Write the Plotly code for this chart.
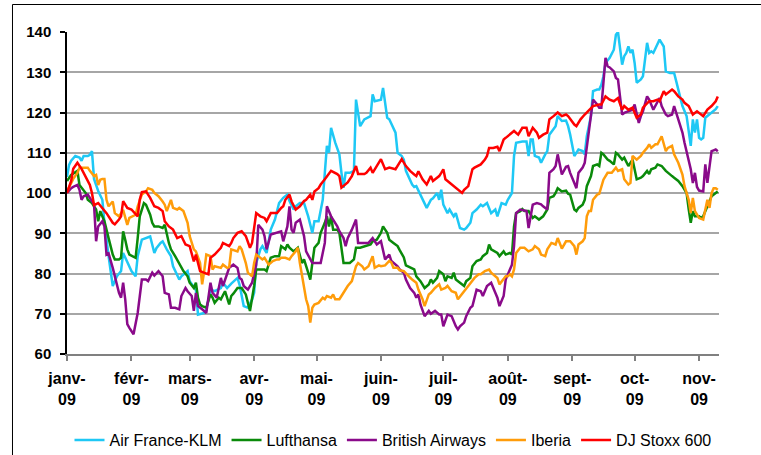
import pandas as pd
import plotly.graph_objects as go

# ---- data (day = days since 1 Jan 2009, value = index, base 100) ----
af_days = [0, 1, 2, 4, 6, 7, 8, 10, 11, 12, 13, 14, 15, 17, 18, 20, 22, 24, 26, 27, 29, 31, 33, 34, 36, 38, 40, 42, 43, 45, 46, 48, 50, 51, 54, 55, 58, 59, 62, 63, 66, 67, 69, 71, 74, 75, 77, 79, 82, 83, 85, 87, 89, 90, 91, 93, 94, 96, 97, 98, 100, 102, 104, 106, 107, 109, 110, 112, 114, 116, 118, 119, 121, 123, 124, 125, 126, 127, 129, 131, 132, 133, 134, 136, 138, 139, 141, 143, 146, 147, 148, 151, 152, 154, 155, 158, 159, 161, 162, 163, 166, 167, 168, 170, 171, 173, 175, 176, 178, 179, 180, 181, 183, 184, 186, 187, 189, 191, 192, 194, 195, 197, 199, 200, 202, 203, 204, 206, 207, 209, 211, 212, 214, 215, 216, 219, 221, 222, 223, 224, 225, 227, 228, 230, 231, 232, 234, 235, 236, 238, 240, 241, 242, 243, 244, 246, 248, 249, 250, 252, 253, 255, 256, 257, 258, 259, 261, 263, 264, 265, 266, 267, 268, 269, 270, 271, 272, 273, 274, 276, 277, 279, 280, 281, 282, 284, 285, 287, 288, 290, 292, 293, 295, 296, 298, 300, 301, 302, 303, 304, 305, 306, 307, 308, 310, 312, 313]
af_vals = [104, 107, 108, 109.2, 108.8, 108, 109.2, 109.2, 109.5, 110.4, 103.5, 101.7, 100.5, 98.3, 92.6, 84.3, 76.9, 79.3, 80.6, 85.1, 83, 80.6, 79.3, 84.3, 88.4, 88.8, 89.2, 85.1, 86.3, 87.6, 88, 86, 84.3, 81.8, 78.5, 79.3, 80.6, 78.1, 76, 69.8, 70.2, 71, 76, 75.6, 76.4, 77.7, 76.4, 77.5, 78.9, 77.2, 71.9, 71.5, 73.5, 75.2, 82.6, 86, 86.8, 85.1, 88, 90.9, 93.4, 97.5, 98.8, 99.6, 98, 95.9, 96.7, 97.5, 97.5, 94.2, 90.1, 93, 93, 98.3, 105, 111.7, 110, 116.2, 112.5, 109.6, 105, 101.3, 105, 105, 105.5, 123.2, 116.6, 118.3, 119.1, 124.5, 122.8, 123.2, 126.1, 118.7, 118.3, 115, 110, 109.2, 108.3, 105.5, 102.1, 101.5, 101.7, 99.6, 98.3, 96.3, 98.3, 98.7, 100, 98.3, 100.8, 97.1, 95, 95.9, 94.2, 95, 91.3, 90.9, 91.3, 92.6, 95, 95.9, 97.1, 96.7, 97.5, 96.3, 95, 95.9, 94.2, 97.5, 97.1, 98.3, 100, 109.2, 112.5, 112.8, 112.8, 109.2, 113.3, 113.3, 109.2, 108.8, 107.5, 109.6, 110.4, 114.5, 115.8, 116.6, 119.1, 117.9, 118, 116.6, 114.5, 111.7, 109.2, 110.8, 110.4, 109.6, 114.1, 119.1, 125.3, 125.7, 125.7, 126.9, 129, 132.3, 133.6, 135.6, 139.3, 140, 136.4, 131.9, 134, 134.8, 136.4, 134.8, 135.6, 132.3, 127.4, 128.2, 129, 137.3, 134.8, 135.2, 134.8, 137.3, 138.1, 136.4, 130.2, 129.8, 129.8, 127.8, 124, 121.6, 119.1, 111.7, 118.3, 115, 118.3, 113.7, 113.3, 113.7, 118.7, 119.1, 120, 120.8, 121.6]

lh_days = [0, 2, 5, 6, 9, 10, 12, 14, 15, 16, 17, 18, 20, 22, 23, 25, 26, 27, 28, 29, 30, 33, 34, 35, 37, 38, 40, 41, 42, 44, 46, 47, 49, 50, 52, 54, 56, 58, 59, 61, 62, 63, 64, 65, 67, 69, 70, 71, 73, 74, 76, 78, 79, 80, 82, 84, 86, 87, 88, 90, 91, 93, 95, 96, 98, 100, 102, 103, 105, 106, 107, 109, 110, 111, 113, 114, 116, 117, 118, 119, 121, 122, 124, 125, 126, 127, 128, 130, 131, 133, 135, 136, 138, 139, 141, 144, 146, 147, 149, 151, 152, 154, 155, 157, 159, 160, 162, 163, 165, 167, 168, 170, 172, 174, 175, 176, 178, 179, 181, 182, 183, 185, 186, 187, 189, 191, 192, 194, 195, 197, 199, 200, 202, 203, 204, 206, 207, 208, 210, 211, 213, 214, 215, 216, 218, 219, 220, 222, 224, 225, 227, 229, 231, 232, 234, 235, 236, 238, 240, 241, 242, 244, 245, 246, 248, 249, 250, 252, 253, 255, 256, 257, 258, 260, 261, 263, 264, 265, 267, 268, 270, 272, 273, 274, 276, 277, 279, 280, 281, 283, 284, 286, 288, 289, 291, 292, 294, 296, 297, 298, 299, 300, 301, 302, 304, 305, 306, 308, 310, 312, 313]
lh_vals = [103, 104.5, 105.5, 102, 100, 98.3, 97.5, 95.9, 93, 95.5, 94.2, 93, 88.8, 84.7, 83.5, 83.5, 83.9, 90.5, 88.4, 86, 84.7, 83.9, 88.8, 94.2, 97.5, 97.1, 94.6, 92.6, 91.7, 91.7, 91.3, 92.1, 87.6, 86, 84.3, 82.6, 80.6, 79.3, 77.7, 76.4, 77.7, 74, 72.3, 71.9, 71.5, 74.8, 74, 72.7, 74, 73.6, 75.6, 72.3, 74.4, 75, 76.4, 76.4, 74.8, 72.7, 70.7, 76.9, 81, 81, 81, 80.6, 83.9, 84.3, 84.3, 86.8, 86, 87.2, 86.4, 85.5, 86, 86.4, 82.6, 83.5, 80.2, 78.5, 82.6, 86.4, 87.6, 90.1, 92.6, 94.2, 91.7, 94.2, 90.9, 90.9, 90.1, 82.6, 82.6, 82.6, 83.5, 86.4, 86.4, 86.8, 87.2, 88, 88.4, 90.1, 91.7, 90.1, 88.4, 87.6, 86.8, 85.8, 84, 82, 81.4, 81, 79.3, 78.1, 76.4, 77.3, 78.5, 77.7, 78.9, 80.6, 79.8, 78.1, 79.3, 78.9, 80.2, 78.5, 77.7, 76.9, 78.1, 78.9, 81.8, 83.1, 83.5, 84.3, 85.1, 87.2, 86, 85.5, 85.1, 84.3, 85.5, 84.7, 85.1, 84.7, 91.7, 95, 95.5, 96, 95.5, 95.5, 93.8, 94.2, 93.4, 94.2, 95.9, 98.8, 99.2, 100, 101.2, 100.4, 100.6, 99.8, 99.6, 95.9, 95.5, 96.3, 97.1, 98.3, 101.7, 104.2, 106.7, 107.1, 106.7, 110, 109.6, 108.3, 108, 107.1, 110, 109.6, 108.3, 108.8, 106.7, 108.3, 105.5, 103.4, 103.8, 104.2, 105.5, 104.7, 105.9, 106.3, 107.1, 106.7, 105.5, 105, 104.2, 103.8, 103, 101.7, 100.9, 100, 96, 92.6, 95.5, 94.2, 94.2, 93.8, 94.2, 96.7, 99.2, 100, 100.4]

ba_days = [0, 2, 3, 5, 6, 7, 8, 10, 11, 13, 14, 15, 17, 18, 19, 20, 22, 23, 25, 26, 27, 28, 29, 30, 32, 34, 36, 38, 39, 41, 42, 44, 46, 47, 49, 50, 52, 54, 55, 57, 58, 60, 61, 62, 63, 65, 67, 69, 70, 72, 74, 75, 77, 78, 80, 82, 83, 84, 85, 87, 89, 91, 92, 94, 95, 96, 98, 101, 103, 104, 106, 107, 108, 109, 110, 112, 114, 115, 117, 118, 120, 122, 124, 125, 127, 128, 130, 131, 133, 134, 135, 137, 139, 140, 143, 145, 147, 149, 151, 153, 155, 156, 159, 160, 162, 163, 165, 167, 168, 169, 170, 171, 172, 174, 175, 177, 179, 180, 181, 183, 185, 187, 188, 189, 191, 192, 194, 195, 197, 199, 200, 202, 204, 206, 207, 208, 210, 211, 212, 213, 214, 215, 216, 218, 221, 222, 223, 224, 226, 228, 229, 231, 232, 234, 235, 236, 238, 240, 241, 242, 244, 245, 246, 248, 249, 250, 252, 253, 255, 256, 257, 258, 259, 260, 261, 263, 264, 265, 266, 267, 268, 270, 272, 273, 274, 275, 276, 277, 279, 280, 282, 284, 285, 286, 288, 289, 291, 292, 294, 296, 297, 298, 300, 301, 302, 303, 304, 306, 307, 308, 309, 310, 311, 312, 313]
ba_vals = [100, 101.2, 101.5, 102, 100.8, 98.3, 99.2, 99.6, 98.8, 97.1, 88, 91.7, 93, 91.7, 84.7, 85, 81.4, 79.3, 75.2, 74, 77.7, 73.6, 67.4, 66.5, 64.9, 70.2, 78.5, 78.5, 78.1, 80.2, 79.5, 80.6, 79.3, 75.2, 74.8, 71.5, 71.5, 71.1, 74.4, 76.4, 75.6, 74.4, 70.7, 75.2, 71.9, 71.1, 70.2, 77.7, 75.2, 74, 78.9, 76.9, 80.2, 81.4, 82.2, 81.4, 78.9, 78.5, 76.9, 76, 77.7, 82.2, 92.1, 90.9, 89.3, 86, 89.7, 90.1, 90.5, 88, 91.7, 96.7, 90.9, 90.1, 92.6, 93.4, 89.3, 85.5, 83.5, 82.6, 82.6, 82.6, 87.6, 96.7, 94.2, 93.4, 91.7, 90.5, 88.8, 86.8, 88.8, 90.9, 93.4, 87.6, 87.6, 87.6, 88.8, 87.2, 88, 83.5, 84.7, 83.1, 81.8, 81, 80.2, 78.5, 76.4, 75.2, 74, 74.8, 72.3, 70.7, 69.4, 70.7, 70, 70.7, 69.8, 69.8, 66.9, 69.8, 69.4, 66.9, 66.1, 66.9, 67.8, 69.4, 71.5, 71.9, 76, 75.6, 74.4, 76.9, 77.7, 75.2, 74, 71.9, 74.4, 78.5, 79.8, 80.6, 82.2, 86.8, 95, 95.9, 95.5, 91.3, 94.2, 97.1, 97.5, 97.2, 96.7, 95.9, 105, 105.9, 106.7, 109.6, 104.6, 106.5, 106.7, 105, 102.5, 101.2, 105, 106.3, 107.5, 111.7, 119.1, 123.2, 122, 121.2, 121.2, 127.8, 133.6, 131.5, 131.2, 130.2, 128.6, 128.2, 123.2, 119.5, 119.9, 120.3, 120.7, 122, 119.5, 117.4, 119.1, 120.3, 124, 123.2, 120.7, 122.4, 123.6, 121.6, 119.5, 119.1, 119.5, 121.6, 118.3, 115, 112.5, 110.4, 105.9, 102.5, 105, 101.5, 100.6, 100.4, 107.1, 102.5, 105.9, 110.4, 110.6, 110.8, 110.4]

ib_days = [0, 2, 3, 5, 6, 8, 10, 11, 13, 14, 15, 16, 17, 18, 19, 20, 22, 23, 25, 26, 27, 29, 30, 33, 34, 36, 38, 39, 41, 42, 44, 46, 47, 48, 50, 51, 53, 54, 56, 58, 59, 61, 62, 64, 65, 66, 67, 69, 70, 71, 74, 75, 77, 78, 79, 82, 83, 84, 86, 87, 89, 90, 91, 94, 95, 97, 99, 101, 102, 103, 105, 107, 108, 110, 111, 112, 114, 115, 116, 117, 118, 119, 121, 123, 124, 125, 127, 128, 129, 131, 132, 134, 135, 137, 139, 140, 142, 143, 145, 147, 148, 150, 151, 153, 155, 156, 157, 159, 160, 162, 163, 165, 166, 168, 169, 170, 171, 172, 174, 175, 177, 179, 180, 182, 183, 185, 187, 188, 190, 191, 193, 195, 196, 198, 199, 201, 203, 204, 206, 207, 208, 210, 211, 212, 213, 214, 215, 216, 218, 220, 222, 224, 225, 227, 228, 230, 231, 233, 235, 236, 238, 240, 242, 244, 245, 246, 248, 249, 250, 251, 252, 253, 255, 256, 257, 258, 260, 262, 264, 265, 267, 268, 270, 271, 272, 274, 276, 277, 279, 280, 281, 283, 284, 286, 288, 289, 291, 292, 294, 296, 297, 299, 300, 301, 302, 303, 304, 306, 307, 308, 309, 310, 311, 312, 313]
ib_vals = [100.4, 102.5, 103.5, 105, 106.3, 106.3, 106.3, 105.5, 104.2, 104.5, 102, 103.3, 103.5, 103.5, 98.3, 96.7, 97.9, 95, 94.2, 95, 95.8, 92.1, 93.8, 94.6, 96.7, 99.6, 100.4, 101.2, 100.8, 100, 99.2, 97.9, 97.1, 95.5, 98.3, 96.3, 95.9, 96.3, 95.5, 92.6, 89.3, 86, 85.5, 82.6, 77.3, 80.6, 84.7, 84.3, 81, 81.8, 81.4, 82.2, 81.4, 81.6, 86, 85.5, 86.8, 86, 82.6, 80.2, 79.3, 82.6, 84.7, 83.5, 83.9, 82.2, 83.1, 83.5, 83.5, 83.9, 83.9, 83.5, 84.3, 85.5, 86.4, 82.6, 76, 73.6, 71.9, 67.8, 71.5, 72.3, 72.7, 74, 73.6, 74.4, 74, 74.8, 73.6, 73.6, 74.4, 76, 76.9, 78.1, 81.8, 82.6, 81.8, 81, 81.8, 84.3, 81.4, 82, 81.8, 82, 83.1, 82.7, 81.4, 81.4, 80.8, 80.6, 80, 79, 78.5, 77.7, 76, 74.8, 73.6, 71.9, 74.8, 75.2, 76.4, 77.3, 76, 76.4, 76.9, 75.6, 75.2, 73.6, 74.8, 75.6, 76.9, 78.1, 78.9, 79.8, 79.8, 80.6, 81, 80.2, 79.3, 78.9, 77.3, 78.5, 79.3, 79.3, 79.8, 79.3, 81, 85.1, 86.4, 86.4, 85.5, 86, 86.8, 86, 84.7, 84.3, 86, 87.6, 87.2, 88.8, 86.2, 88, 88, 86.8, 84.7, 87.2, 88, 88.8, 94.2, 95.5, 95.5, 98.3, 99.6, 99.8, 101.7, 103.3, 105, 105, 106.3, 105.5, 105.9, 103.4, 102.1, 102.5, 109.2, 108.3, 109.2, 110, 111.2, 112.1, 111.2, 112.1, 112.1, 114.1, 110.4, 111.2, 111.7, 109.6, 107.5, 104.6, 101.7, 98.3, 95, 98.8, 95.5, 94.6, 93.8, 93.4, 95.9, 98.3, 96.3, 100, 101.2, 101.2, 100.8]

dj_days = [0, 2, 3, 5, 7, 9, 11, 12, 13, 15, 17, 19, 22, 23, 25, 26, 27, 29, 31, 34, 35, 36, 38, 40, 42, 44, 46, 47, 49, 51, 53, 55, 57, 59, 61, 62, 64, 66, 68, 69, 71, 74, 75, 78, 79, 80, 82, 84, 86, 88, 89, 91, 93, 95, 96, 98, 101, 103, 104, 105, 107, 108, 110, 112, 114, 115, 117, 118, 119, 121, 122, 124, 126, 127, 130, 131, 132, 135, 137, 139, 140, 143, 144, 146, 147, 149, 151, 153, 155, 158, 159, 161, 163, 165, 167, 168, 169, 171, 173, 175, 176, 179, 180, 181, 182, 184, 186, 187, 189, 190, 191, 193, 195, 196, 199, 201, 202, 203, 205, 207, 208, 210, 211, 213, 215, 217, 219, 221, 222, 224, 226, 227, 229, 231, 232, 234, 236, 238, 240, 241, 242, 244, 245, 247, 249, 252, 253, 256, 257, 259, 261, 263, 265, 267, 268, 270, 272, 274, 276, 277, 279, 280, 282, 284, 285, 287, 288, 291, 292, 294, 296, 297, 299, 300, 301, 303, 304, 306, 308, 310, 312, 313]
dj_vals = [100, 103, 106, 107.5, 106, 104, 102, 100, 97, 97.5, 96.3, 95, 92.6, 92.2, 93.4, 94.2, 98, 96.3, 95.9, 94.2, 98.4, 100.2, 100.4, 98.8, 96.7, 96.3, 95.5, 93, 91.7, 90.9, 88.8, 89.3, 87.2, 86.8, 83, 84.7, 80.6, 80.2, 79.8, 83.9, 84.7, 86.4, 87.6, 86.8, 87.6, 88.8, 90.1, 90.5, 89.3, 86.4, 87.6, 95, 94.2, 93.8, 93, 95, 95, 96.3, 96.7, 98.3, 99.6, 97.9, 95.9, 96.7, 98, 98.3, 99.6, 98.3, 100.4, 101.2, 102.1, 103.4, 105, 105.5, 104.7, 104.2, 101.3, 102.6, 104.2, 106.7, 104.7, 104.7, 105, 106.3, 105, 106.7, 108.4, 105.9, 106.3, 105.9, 106.7, 108.4, 106.7, 105.5, 104.6, 104.2, 105.4, 103.4, 102.1, 104.2, 103, 104.2, 105, 105.9, 103.4, 102.6, 101.8, 101.3, 100.4, 100, 100.8, 101.7, 105.9, 106.3, 107.1, 108.3, 109.2, 111.2, 111.2, 111.5, 110.4, 113.3, 113.7, 114.5, 115.4, 114.5, 116.2, 116.2, 114.1, 116.2, 115, 113.7, 114.5, 115, 118.3, 119.1, 120, 119.1, 119.5, 119.1, 118.3, 117, 116.6, 118.3, 119.5, 121.2, 121.6, 122, 122, 124, 123.2, 122.8, 123.6, 120.7, 121.6, 120.7, 121.2, 118.7, 119.5, 121.2, 122.4, 122.8, 122.8, 123.2, 122.8, 125.3, 124.5, 125.7, 125.3, 124, 123.2, 122.4, 121.6, 120.7, 119.5, 120.3, 119.9, 119.1, 120.7, 121.6, 122.8, 124]

series_names = ["Air France-KLM", "Lufthansa", "British Airways", "Iberia", "DJ Stoxx 600"]
series_colors = ["#1EC8F5", "#0A8A0A", "#8A0A8A", "#FF9C0A", "#FF0000"]
series_days = [af_days, lh_days, ba_days, ib_days, dj_days]
series_vals = [af_vals, lh_vals, ba_vals, ib_vals, dj_vals]

month_starts = ["2009-01-01", "2009-02-01", "2009-03-01", "2009-04-01", "2009-05-01", "2009-06-01",
                "2009-07-01", "2009-08-01", "2009-09-01", "2009-10-01", "2009-11-01"]
month_labels = ["janv-<br>09", "févr-<br>09", "mars-<br>09", "avr-<br>09", "mai-<br>09", "juin-<br>09",
                "juil-<br>09", "août-<br>09", "sept-<br>09", "oct-<br>09", "nov-<br>09"]
y_ticks = [60, 70, 80, 90, 100, 110, 120, 130, 140]

base = pd.Timestamp("2009-01-01")

fig = go.Figure()
for name, color, days, vals in zip(series_names, series_colors, series_days, series_vals):
    dates = base + pd.to_timedelta(days, unit="D")
    fig.add_trace(go.Scatter(x=dates, y=vals, mode="lines", name=name,
                             line=dict(color=color, width=2.5)))

FONT = "Liberation Sans, Arial, sans-serif"
fig.update_layout(
    width=761, height=455,
    margin=dict(l=67, r=42, t=32, b=101, autoexpand=False),
    paper_bgcolor="white", plot_bgcolor="white",
    font=dict(family=FONT, color="black"),
    showlegend=True,
    legend=dict(orientation="h", x=0.5, xanchor="center",
                yref="container", y=0.033, yanchor="middle",
                font=dict(size=16, family=FONT, color="black"), bgcolor="rgba(0,0,0,0)"),
    xaxis=dict(type="date", range=["2009-01-01", "2009-11-10 14:00"],
               tickmode="array", tickvals=month_starts, ticktext=month_labels,
               tickfont=dict(size=16, family=FONT, weight="bold", color="black"),
               ticks="outside", ticklen=5, tickcolor="#808080", tickwidth=1.5,
               showline=True, linecolor="#808080", linewidth=2,
               showgrid=False, zeroline=False, ticklabelstandoff=4, automargin=False),
    yaxis=dict(range=[60, 140], tickmode="array", tickvals=y_ticks,
               tickfont=dict(size=15, family=FONT, weight="bold", color="black"),
               ticks="outside", ticklen=5, tickcolor="black", tickwidth=1.5,
               showline=True, linecolor="black", linewidth=1.5,
               showgrid=True, gridcolor="#A6A6A6", gridwidth=1.5,
               zeroline=False, ticklabelstandoff=6, automargin=False),
)

# chart frame
fig.add_shape(type="rect", xref="paper", yref="paper",
              x0=-0.0836, x1=1.0828, y0=-0.33, y1=1.0854,
              line=dict(color="black", width=1), fillcolor="rgba(0,0,0,0)", layer="below")

fig.write_html("out.html", config={"displayModeBar": False},
               post_script="document.body.style.margin='0';document.body.style.overflow='hidden';")
